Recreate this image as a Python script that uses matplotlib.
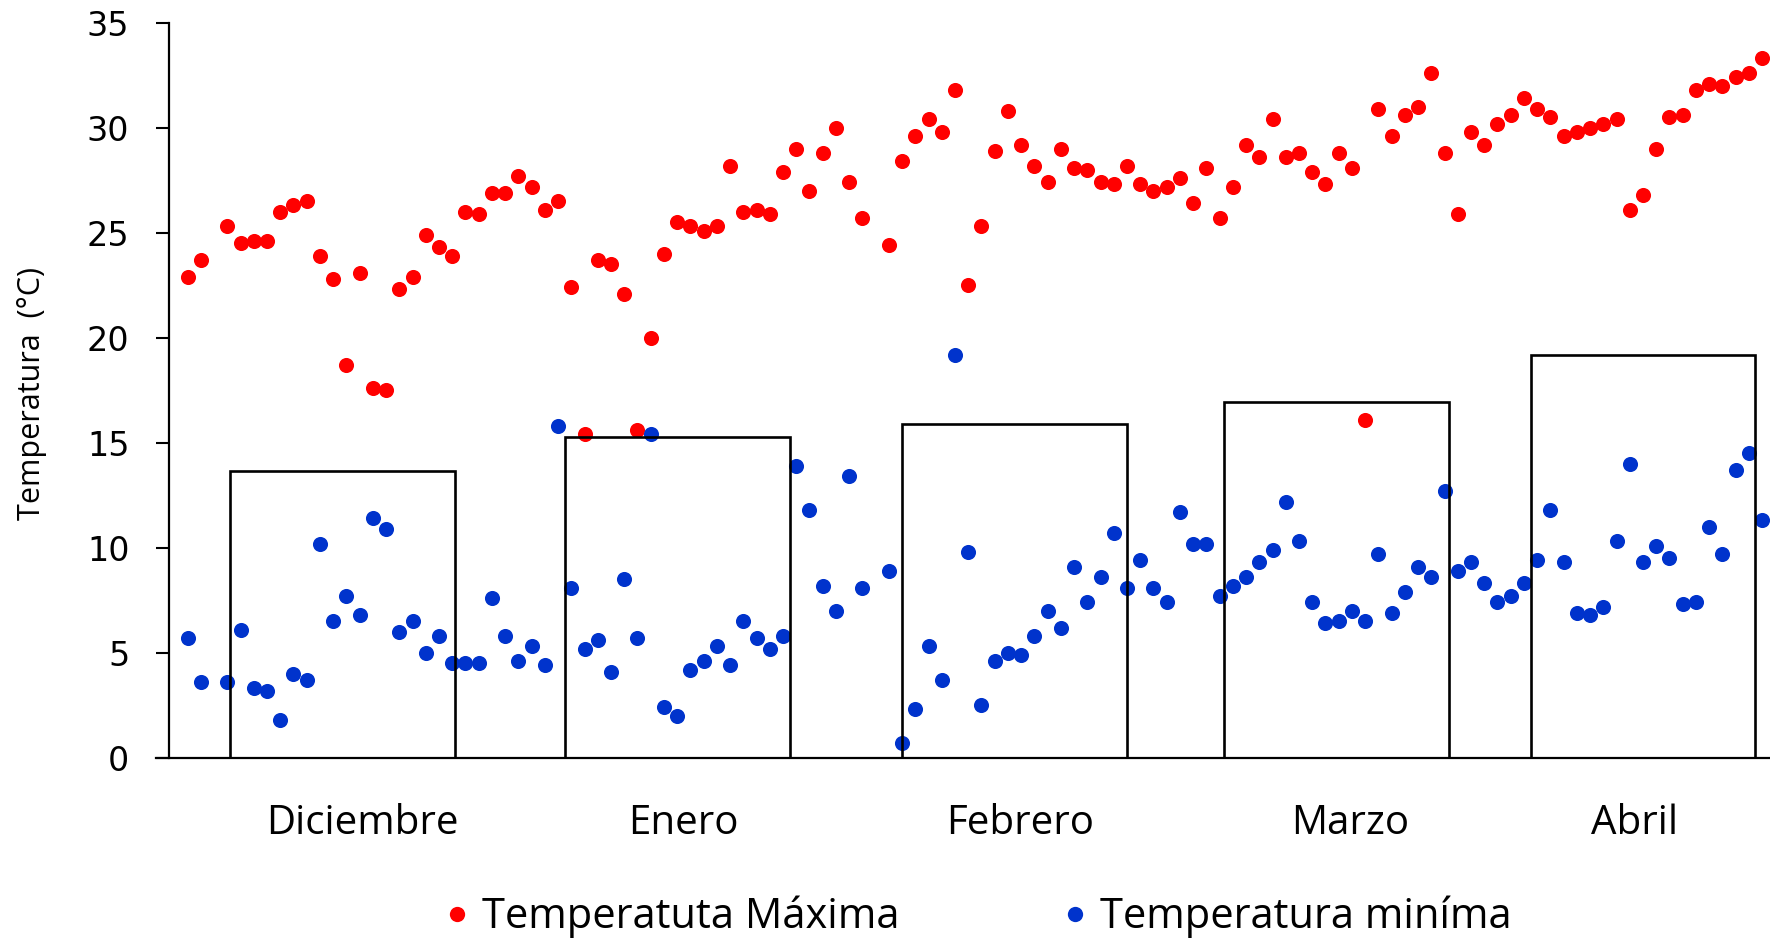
"""
Temperaturas diarias (max / min) con el promedio mensual como barras.
Output: out.png
"""

import numpy as np
import matplotlib
matplotlib.use("Agg")
import matplotlib.pyplot as plt
from matplotlib.lines import Line2D

plt.rcParams["font.family"] = ["Open Sans", "DejaVu Sans"]

# ---------------------------------------------------------------------------
# Data
# ---------------------------------------------------------------------------
nan = np.nan

months = ["Diciembre", "Enero", "Febrero", "Marzo", "Abril"]
month_values = [13.65, 15.25, 15.9, 16.95, 19.2]

t_max = [
    22.9, 23.7, nan, 25.3, 24.5, 24.6, 24.6, 26.0, 26.3, 26.5,
    23.9, 22.8, 18.7, 23.1, 17.6, 17.5, 22.3, 22.9, 24.9, 24.3,
    23.9, 26.0, 25.9, 26.9, 26.9, 27.7, 27.2, 26.1, 26.5, 22.4,
    15.4, 23.7, 23.5, 22.1, 15.6, 20.0, 24.0, 25.5, 25.3, 25.1,
    25.3, 28.2, 26.0, 26.1, 25.9, 27.9, 29.0, 27.0, 28.8, 30.0,
    27.4, 25.7, nan, 24.4, 28.4, 29.6, 30.4, 29.8, 31.8, 22.5,
    25.3, 28.9, 30.8, 29.2, 28.2, 27.4, 29.0, 28.1, 28.0, 27.4,
    27.3, 28.2, 27.3, 27.0, 27.2, 27.6, 26.4, 28.1, 25.7, 27.2,
    29.2, 28.6, 30.4, 28.6, 28.8, 27.9, 27.3, 28.8, 28.1, 16.1,
    30.9, 29.6, 30.6, 31.0, 32.6, 28.8, 25.9, 29.8, 29.2, 30.2,
    30.6, 31.4, 30.9, 30.5, 29.6, 29.8, 30.0, 30.2, 30.4, 26.1,
    26.8, 29.0, 30.5, 30.6, 31.8, 32.1, 32.0, 32.4, 32.6, 33.3,
]

t_min = [
    5.7, 3.6, nan, 3.6, 6.1, 3.3, 3.2, 1.8, 4.0, 3.7,
    10.2, 6.5, 7.7, 6.8, 11.4, 10.9, 6.0, 6.5, 5.0, 5.8,
    4.5, 4.5, 4.5, 7.6, 5.8, 4.6, 5.3, 4.4, 15.8, 8.1,
    5.2, 5.6, 4.1, 8.5, 5.7, 15.4, 2.4, 2.0, 4.2, 4.6,
    5.3, 4.4, 6.5, 5.7, 5.2, 5.8, 13.9, 11.8, 8.2, 7.0,
    13.4, 8.1, nan, 8.9, 0.7, 2.3, 5.3, 3.7, 19.2, 9.8,
    2.5, 4.6, 5.0, 4.9, 5.8, 7.0, 6.2, 9.1, 7.4, 8.6,
    10.7, 8.1, 9.4, 8.1, 7.4, 11.7, 10.2, 10.2, 7.7, 8.2,
    8.6, 9.3, 9.9, 12.2, 10.3, 7.4, 6.4, 6.5, 7.0, 6.5,
    9.7, 6.9, 7.9, 9.1, 8.6, 12.7, 8.9, 9.3, 8.3, 7.4,
    7.7, 8.3, 9.4, 11.8, 9.3, 6.9, 6.8, 7.2, 10.3, 14.0,
    9.3, 10.1, 9.5, 7.3, 7.4, 11.0, 9.7, 13.7, 14.5, 11.3,
]

# ---------------------------------------------------------------------------
# Layout (day-index units on the x axis)
# ---------------------------------------------------------------------------
bar_centers = [11.7, 37.0, 62.5, 86.8, 110.0]
label_centers = [13.2, 37.5, 62.9, 87.9, 109.4]
bar_width = 17.0

RED = "#FF0000"
BLUE = "#0033CC"

days = np.arange(len(t_max))

# ---------------------------------------------------------------------------
# Chart
# ---------------------------------------------------------------------------
W, H = 1770, 940
fig = plt.figure(figsize=(W / 100, H / 100), dpi=100)
ax = fig.add_axes([169 / W, 1 - 757.7 / H, 1 - 169 / W, 735 / H])

ax.scatter(days, t_max, s=118, color=RED, linewidths=0, zorder=2)
ax.scatter(days, t_min, s=118, color=BLUE, linewidths=0, zorder=2)
ax.bar(bar_centers, month_values, width=bar_width, fill=False,
       edgecolor="black", linewidth=1.9, zorder=3)

ax.set_ylim(0, 35)
ax.set_xlim(-1.41, 119.6)
ax.set_yticks(range(0, 36, 5))
ax.set_xticks(label_centers)
ax.set_xticklabels(months, fontsize=29)
ax.tick_params(axis="x", length=0, pad=33)
ax.tick_params(axis="y", direction="out", length=9.5, width=1.5, pad=19)
for lbl in ax.get_yticklabels():
    lbl.set_fontfamily("DejaVu Sans")
    lbl.set_fontsize(24)

for side in ("top", "right"):
    ax.spines[side].set_visible(False)
for side in ("left", "bottom"):
    ax.spines[side].set_linewidth(1.6)
# x axis line reaches out to the tick of the 0 label
ax.spines["bottom"].set_bounds(-1.41 - 13 / 13.23, 119.6)
ax.spines["bottom"].set_clip_on(False)

fig.text(31.6 / W, 1 - 393 / H, "Temperatura  (°C)", rotation=90,
         ha="center", va="center", fontsize=22)

handles = [
    Line2D([], [], linestyle="none", marker="o", markersize=11,
           markerfacecolor=RED, markeredgewidth=0),
    Line2D([], [], linestyle="none", marker="o", markersize=11,
           markerfacecolor=BLUE, markeredgewidth=0),
]
fig.legend(handles, ["Temperatuta Máxima", "Temperatura miníma"],
           loc="center", bbox_to_anchor=(978 / W, 1 - 917 / H), ncol=2,
           frameon=False, fontsize=30, handlelength=0.6, handletextpad=0.3,
           columnspacing=3.9, borderpad=0)

fig.savefig("out.png", dpi=100)
